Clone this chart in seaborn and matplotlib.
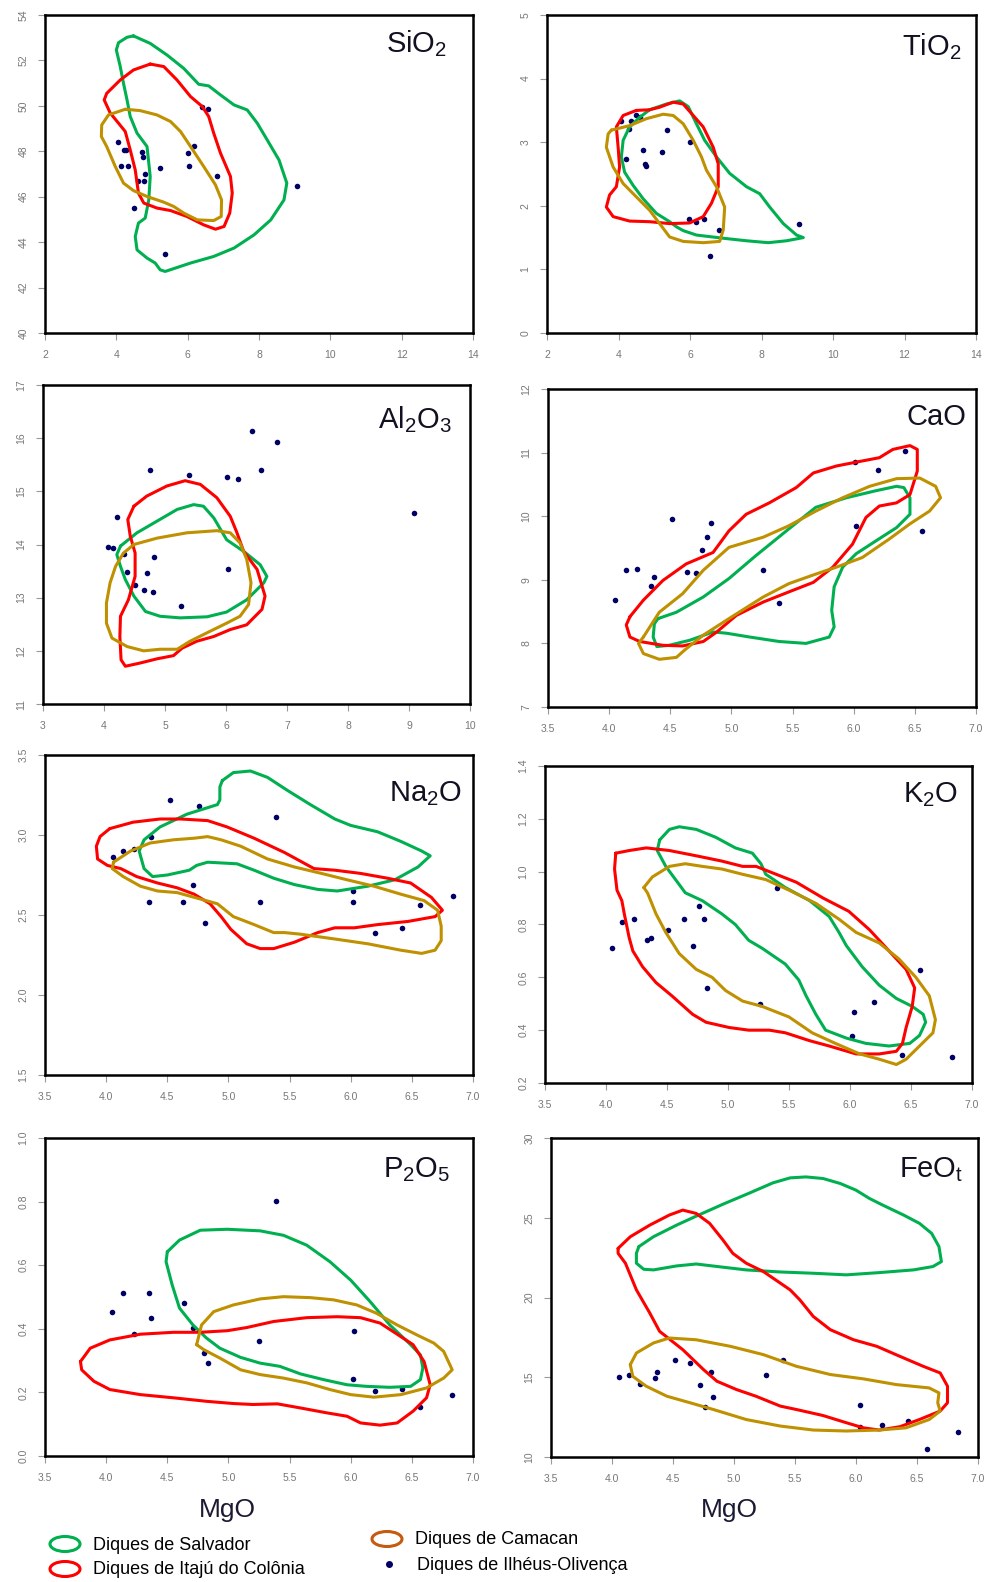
import pandas as pd
import matplotlib
matplotlib.use("Agg")
import matplotlib.pyplot as plt
from matplotlib.patches import Ellipse
import seaborn as sns

sns.set_style("white")
plt.rcParams['font.family'] = ['Liberation Sans', 'DejaVu Sans']

GREEN = '#00b050'
RED = '#ff0000'
GOLD = '#bf9000'
NAVY = '#000066'

# ---- Ilhéus-Olivença samples (MgO vs oxide) ----
sio2_x = [4.04, 4.13, 4.22, 4.28, 4.34, 4.72, 4.75, 4.81, 4.78, 4.62, 4.50, 5.23, 5.37, 6.00, 6.03, 6.19, 6.41, 6.58, 6.83, 9.06]
sio2_y = [48.43, 47.37, 48.06, 48.06, 47.37, 47.95, 47.73, 46.99, 46.71, 46.71, 45.50, 47.26, 43.47, 47.92, 47.36, 48.24, 49.97, 49.85, 46.93, 46.48]

tio2_x = [4.08, 4.34, 4.30, 4.50, 4.59, 4.20, 4.69, 4.73, 4.78, 5.22, 5.36, 5.99, 5.98, 6.18, 6.39, 6.81, 6.55, 9.04]
tio2_y = [3.34, 3.33, 3.21, 3.42, 3.40, 2.74, 2.87, 2.65, 2.63, 2.84, 3.19, 3.01, 1.79, 1.75, 1.79, 1.62, 1.21, 1.71]

al2o3_x = [6.42, 6.83, 4.76, 5.40, 6.02, 6.20, 6.58, 9.08, 4.22, 4.06, 4.14, 4.33, 4.82, 4.38, 4.71, 6.03, 4.51, 4.65, 4.81, 5.26]
al2o3_y = [16.13, 15.93, 15.40, 15.30, 15.27, 15.24, 15.41, 14.59, 14.51, 13.95, 13.94, 13.82, 13.77, 13.48, 13.47, 13.53, 13.24, 13.14, 13.10, 12.84]

cao_x = [4.05, 4.14, 4.23, 4.37, 4.34, 4.51, 4.64, 4.71, 4.76, 4.80, 4.83, 5.26, 5.39, 6.01, 6.02, 6.20, 6.42, 6.56]
cao_y = [8.68, 9.16, 9.17, 9.05, 8.90, 9.95, 9.13, 9.11, 9.47, 9.67, 9.90, 9.15, 8.64, 10.86, 9.85, 10.73, 11.02, 9.77]

na2o_x = [4.06, 4.14, 4.23, 4.37, 4.35, 4.52, 4.76, 4.71, 4.63, 4.81, 5.26, 5.39, 6.02, 6.02, 6.20, 6.42, 6.57, 6.84]
na2o_y = [2.86, 2.90, 2.91, 2.99, 2.58, 3.22, 3.18, 2.69, 2.58, 2.45, 2.58, 3.11, 2.65, 2.58, 2.39, 2.42, 2.56, 2.62]

k2o_x = [4.05, 4.13, 4.23, 4.34, 4.37, 4.51, 4.64, 4.76, 4.71, 4.80, 4.83, 5.26, 5.40, 6.03, 6.02, 6.20, 6.43, 6.57, 6.84]
k2o_y = [0.710, 0.811, 0.821, 0.741, 0.748, 0.779, 0.821, 0.870, 0.719, 0.821, 0.559, 0.498, 0.939, 0.468, 0.379, 0.508, 0.306, 0.629, 0.298]

p2o5_x = [4.05, 4.14, 4.35, 4.37, 4.23, 4.64, 4.71, 4.80, 4.83, 5.25, 5.39, 6.03, 6.02, 6.20, 6.42, 6.57, 6.83]
p2o5_y = [0.454, 0.514, 0.514, 0.433, 0.383, 0.482, 0.402, 0.324, 0.292, 0.362, 0.802, 0.394, 0.243, 0.204, 0.212, 0.153, 0.191]

feot_x = [4.06, 4.14, 4.23, 4.35, 4.37, 4.52, 4.64, 4.72, 4.81, 4.83, 4.76, 5.26, 5.40, 6.03, 6.03, 6.21, 6.43, 6.58, 6.84]
feot_y = [15.00, 15.13, 14.58, 14.94, 15.31, 16.06, 15.90, 14.50, 15.31, 13.77, 13.15, 15.13, 16.06, 13.29, 11.90, 11.98, 12.25, 10.52, 11.58]

# ---- field outlines (Salvador, Itajú do Colônia, Camacan) ----
sio2_salvador = [(4.48, 53.08), (4.95, 52.75), (5.42, 52.24), (5.89, 51.65), (6.31, 50.95), (6.59, 50.88), (6.92, 50.48),
                 (7.30, 50.04), (7.67, 49.82), (7.95, 49.24), (8.23, 48.50), (8.56, 47.62), (8.78, 46.60), (8.70, 45.86),
                 (8.33, 44.98), (7.86, 44.32), (7.30, 43.74), (6.73, 43.37), (6.08, 43.08), (5.37, 42.71), (5.23, 42.78),
                 (5.09, 43.08), (4.86, 43.30), (4.58, 43.66), (4.53, 44.25), (4.62, 44.84), (4.81, 45.06), (4.91, 45.86),
                 (4.95, 46.89), (4.86, 48.21), (4.58, 48.80), (4.39, 49.53), (4.30, 50.26), (4.20, 51.00), (4.11, 51.73),
                 (4.00, 52.46), (4.06, 52.78), (4.30, 53.02)]
sio2_itaju = [(4.95, 51.84), (5.33, 51.73), (5.70, 51.14), (6.08, 50.41), (6.41, 49.97), (6.59, 49.53), (6.73, 48.80),
              (6.92, 47.92), (7.20, 46.89), (7.25, 46.16), (7.18, 45.28), (7.02, 44.69), (6.78, 44.57), (6.45, 44.76),
              (5.98, 45.13), (5.52, 45.39), (5.14, 45.50), (4.77, 45.72), (4.62, 46.16), (4.53, 47.18), (4.39, 48.06),
              (4.25, 48.87), (4.06, 49.24), (3.83, 49.68), (3.66, 50.26), (3.73, 50.55), (4.11, 51.14), (4.48, 51.58)]
sio2_camacan = [(4.25, 49.85), (4.67, 49.79), (5.14, 49.60), (5.52, 49.31), (5.80, 48.87), (6.08, 48.21), (6.45, 47.33),
                (6.78, 46.52), (6.95, 45.86), (6.94, 45.13), (6.73, 44.95), (6.27, 44.98), (5.89, 45.28), (5.61, 45.57),
                (5.33, 45.76), (4.86, 46.01), (4.48, 46.27), (4.20, 46.60), (3.97, 47.33), (3.73, 48.21), (3.58, 48.65),
                (3.59, 49.16), (3.78, 49.60)]

tio2_salvador = [(4.87, 3.51), (5.34, 3.60), (5.71, 3.65), (5.95, 3.56), (6.18, 3.29), (6.41, 3.03), (6.74, 2.77),
                 (7.11, 2.51), (7.58, 2.30), (7.95, 2.19), (8.23, 1.98), (8.61, 1.72), (8.98, 1.54), (9.17, 1.50),
                 (8.70, 1.45), (8.19, 1.42), (7.58, 1.45), (6.93, 1.49), (6.18, 1.54), (5.81, 1.61), (5.62, 1.67),
                 (5.43, 1.75), (5.06, 1.88), (4.69, 2.11), (4.41, 2.32), (4.17, 2.53), (4.08, 2.77), (4.13, 3.03),
                 (4.31, 3.24), (4.59, 3.39)]
tio2_itaju = [(4.50, 3.50), (4.87, 3.51), (5.15, 3.55), (5.53, 3.63), (5.81, 3.60), (6.09, 3.42), (6.37, 3.24),
              (6.65, 2.92), (6.79, 2.66), (6.79, 2.30), (6.60, 2.04), (6.37, 1.83), (5.99, 1.73), (5.43, 1.72),
              (4.87, 1.75), (4.31, 1.76), (3.85, 1.83), (3.66, 1.98), (3.75, 2.17), (3.94, 2.30), (4.03, 2.61),
              (3.99, 2.92), (3.94, 3.24), (4.13, 3.42)]
tio2_camacan = [(3.80, 3.19), (4.31, 3.26), (4.78, 3.37), (5.25, 3.44), (5.53, 3.42), (5.81, 3.29), (6.09, 3.03),
                (6.32, 2.77), (6.46, 2.56), (6.74, 2.30), (6.97, 1.98), (6.93, 1.62), (6.83, 1.44), (6.37, 1.42),
                (5.81, 1.44), (5.43, 1.51), (5.15, 1.72), (4.87, 1.93), (4.50, 2.14), (4.13, 2.35), (3.85, 2.61),
                (3.66, 2.92), (3.71, 3.13)]

al2o3_salvador = [(4.27, 13.97), (4.54, 14.22), (4.87, 14.44), (5.20, 14.66), (5.47, 14.75), (5.63, 14.72), (5.80, 14.50),
                  (6.01, 14.09), (6.29, 13.87), (6.56, 13.62), (6.67, 13.40), (6.62, 13.28), (6.34, 12.96), (6.01, 12.73),
                  (5.69, 12.64), (5.25, 12.62), (4.92, 12.65), (4.68, 12.74), (4.49, 13.03), (4.35, 13.34), (4.27, 13.59),
                  (4.21, 13.81)]
al2o3_itaju = [(4.49, 14.72), (4.70, 14.91), (5.03, 15.10), (5.33, 15.20), (5.58, 15.13), (5.85, 14.88), (6.07, 14.53),
               (6.18, 14.22), (6.29, 13.87), (6.51, 13.53), (6.64, 13.03), (6.59, 12.78), (6.34, 12.49), (6.07, 12.40),
               (5.80, 12.27), (5.52, 12.18), (5.28, 12.05), (5.14, 11.91), (4.87, 11.85), (4.59, 11.77), (4.35, 11.71),
               (4.28, 11.83), (4.26, 12.27), (4.27, 12.65), (4.40, 12.96), (4.51, 13.40), (4.51, 13.84), (4.43, 14.16),
               (4.39, 14.47)]
al2o3_camacan = [(4.49, 14.00), (4.87, 14.12), (5.36, 14.22), (5.85, 14.26), (6.07, 14.22), (6.23, 14.03), (6.34, 13.72),
                 (6.41, 13.28), (6.37, 12.87), (6.23, 12.65), (6.01, 12.52), (5.69, 12.34), (5.41, 12.18), (5.20, 12.03),
                 (4.92, 12.03), (4.65, 12.00), (4.38, 12.08), (4.13, 12.24), (4.04, 12.52), (4.04, 12.90), (4.10, 13.28),
                 (4.19, 13.59), (4.32, 13.84)]

cao_salvador = [(4.40, 8.39), (4.55, 8.49), (4.77, 8.73), (4.98, 9.02), (5.20, 9.38), (5.45, 9.77), (5.69, 10.14),
                (5.94, 10.29), (6.18, 10.40), (6.35, 10.47), (6.41, 10.45), (6.46, 10.29), (6.46, 10.03), (6.35, 9.82),
                (6.18, 9.61), (6.02, 9.41), (5.91, 9.20), (5.84, 8.89), (5.82, 8.52), (5.84, 8.26), (5.80, 8.10),
                (5.61, 8.00), (5.39, 8.03), (5.15, 8.10), (4.96, 8.16), (4.85, 8.18), (4.66, 8.05), (4.49, 7.97),
                (4.39, 7.95), (4.36, 8.10), (4.37, 8.31)]
cao_itaju = [(4.17, 8.42), (4.28, 8.68), (4.44, 8.99), (4.63, 9.25), (4.85, 9.43), (4.98, 9.77), (5.12, 10.03),
             (5.31, 10.21), (5.53, 10.45), (5.67, 10.68), (5.86, 10.79), (6.02, 10.85), (6.21, 10.92), (6.32, 11.05),
             (6.46, 11.11), (6.52, 11.05), (6.52, 10.71), (6.46, 10.34), (6.35, 10.21), (6.21, 10.16), (6.10, 9.98),
             (5.99, 9.56), (5.83, 9.20), (5.67, 8.96), (5.47, 8.81), (5.26, 8.65), (5.04, 8.44), (4.88, 8.18),
             (4.77, 8.03), (4.60, 7.96), (4.44, 7.97), (4.25, 8.03), (4.17, 8.10), (4.14, 8.29)]
cao_camacan = [(4.28, 8.10), (4.41, 8.49), (4.60, 8.78), (4.77, 9.15), (4.98, 9.51), (5.26, 9.67), (5.47, 9.85),
               (5.69, 10.08), (5.91, 10.29), (6.13, 10.47), (6.35, 10.59), (6.54, 10.60), (6.67, 10.47), (6.71, 10.29),
               (6.62, 10.08), (6.46, 9.88), (6.29, 9.64), (6.07, 9.35), (5.86, 9.20), (5.69, 9.09), (5.47, 8.94),
               (5.26, 8.73), (4.98, 8.39), (4.77, 8.13), (4.62, 7.90), (4.55, 7.78), (4.41, 7.75), (4.28, 7.84),
               (4.24, 8.00)]

na2o_salvador = [(4.95, 3.34), (5.04, 3.39), (5.18, 3.40), (5.32, 3.36), (5.48, 3.28), (5.67, 3.19), (5.87, 3.10),
                 (6.00, 3.06), (6.22, 3.02), (6.41, 2.96), (6.58, 2.90), (6.65, 2.87), (6.55, 2.80), (6.36, 2.72),
                 (6.14, 2.68), (5.89, 2.65), (5.73, 2.66), (5.54, 2.69), (5.37, 2.73), (5.21, 2.78), (5.07, 2.82),
                 (4.83, 2.83), (4.74, 2.81), (4.68, 2.78), (4.50, 2.75), (4.38, 2.74), (4.31, 2.79), (4.27, 2.90),
                 (4.31, 2.97), (4.44, 3.05), (4.66, 3.13), (4.91, 3.19), (4.93, 3.22), (4.93, 3.30)]
na2o_itaju = [(4.03, 3.04), (4.22, 3.08), (4.44, 3.10), (4.61, 3.10), (4.83, 3.09), (4.99, 3.05), (5.21, 2.98),
              (5.46, 2.89), (5.70, 2.79), (5.87, 2.78), (6.08, 2.76), (6.30, 2.73), (6.49, 2.70), (6.66, 2.61),
              (6.75, 2.53), (6.69, 2.49), (6.47, 2.46), (6.22, 2.44), (6.03, 2.42), (5.87, 2.42), (5.73, 2.39),
              (5.54, 2.33), (5.37, 2.29), (5.26, 2.29), (5.15, 2.32), (5.02, 2.41), (4.94, 2.49), (4.85, 2.57),
              (4.72, 2.63), (4.58, 2.67), (4.42, 2.70), (4.25, 2.74), (4.12, 2.79), (4.01, 2.81), (3.93, 2.85),
              (3.92, 2.93), (3.95, 2.99)]
na2o_camacan = [(4.06, 2.83), (4.20, 2.90), (4.36, 2.95), (4.55, 2.97), (4.72, 2.98), (4.83, 2.99), (4.94, 2.97),
                (5.10, 2.93), (5.32, 2.85), (5.54, 2.80), (5.76, 2.76), (5.97, 2.72), (6.19, 2.68), (6.41, 2.63),
                (6.60, 2.59), (6.71, 2.53), (6.74, 2.43), (6.74, 2.34), (6.69, 2.28), (6.58, 2.26), (6.41, 2.28),
                (6.14, 2.32), (5.87, 2.35), (5.59, 2.38), (5.46, 2.39), (5.37, 2.39), (5.21, 2.44), (5.04, 2.49),
                (4.91, 2.57), (4.77, 2.60), (4.58, 2.64), (4.42, 2.65), (4.28, 2.68), (4.14, 2.74), (4.05, 2.79)]

k2o_salvador = [(4.44, 1.12), (4.52, 1.16), (4.60, 1.17), (4.74, 1.16), (4.90, 1.13), (5.06, 1.09), (5.20, 1.07),
                (5.27, 1.03), (5.31, 0.99), (5.47, 0.94), (5.67, 0.89), (5.83, 0.83), (5.91, 0.77), (5.97, 0.72),
                (6.10, 0.64), (6.24, 0.57), (6.38, 0.52), (6.51, 0.49), (6.60, 0.46), (6.62, 0.43), (6.57, 0.38),
                (6.49, 0.35), (6.32, 0.34), (6.13, 0.35), (5.97, 0.37), (5.80, 0.40), (5.72, 0.46), (5.64, 0.53),
                (5.58, 0.59), (5.47, 0.65), (5.28, 0.71), (5.17, 0.74), (5.06, 0.80), (4.95, 0.84), (4.79, 0.89),
                (4.65, 0.92), (4.57, 0.97), (4.49, 1.02), (4.42, 1.08)]
k2o_itaju = [(4.08, 1.07), (4.19, 1.08), (4.33, 1.09), (4.52, 1.08), (4.74, 1.06), (4.95, 1.04), (5.12, 1.02),
             (5.23, 1.02), (5.34, 1.00), (5.56, 0.96), (5.78, 0.90), (5.99, 0.85), (6.16, 0.78), (6.32, 0.70),
             (6.46, 0.63), (6.53, 0.56), (6.51, 0.49), (6.46, 0.41), (6.43, 0.35), (6.38, 0.32), (6.24, 0.31),
             (6.05, 0.31), (5.83, 0.34), (5.67, 0.36), (5.47, 0.39), (5.34, 0.40), (5.17, 0.40), (5.01, 0.41),
             (4.82, 0.43), (4.71, 0.46), (4.54, 0.53), (4.41, 0.58), (4.30, 0.64), (4.22, 0.70), (4.19, 0.75),
             (4.15, 0.84), (4.13, 0.89), (4.09, 0.93), (4.07, 1.01)]
k2o_camacan = [(4.31, 0.94), (4.38, 0.98), (4.52, 1.02), (4.65, 1.03), (4.79, 1.02), (4.95, 1.01), (5.12, 0.99),
               (5.31, 0.97), (5.50, 0.93), (5.72, 0.88), (5.91, 0.82), (6.05, 0.77), (6.24, 0.73), (6.40, 0.67),
               (6.54, 0.60), (6.65, 0.53), (6.70, 0.44), (6.68, 0.39), (6.57, 0.34), (6.46, 0.29), (6.38, 0.27),
               (6.24, 0.29), (6.08, 0.31), (5.88, 0.35), (5.69, 0.39), (5.50, 0.45), (5.28, 0.49), (5.12, 0.51),
               (4.98, 0.55), (4.87, 0.60), (4.74, 0.63), (4.60, 0.69), (4.49, 0.77), (4.41, 0.84), (4.34, 0.92)]

p2o5_salvador = [(4.50, 0.642), (4.60, 0.679), (4.77, 0.710), (4.99, 0.713), (5.26, 0.708), (5.45, 0.694), (5.64, 0.663),
                 (5.83, 0.611), (6.00, 0.553), (6.16, 0.485), (6.32, 0.412), (6.49, 0.350), (6.57, 0.318), (6.59, 0.277),
                 (6.57, 0.240), (6.49, 0.219), (6.32, 0.216), (6.13, 0.219), (5.97, 0.224), (5.78, 0.240), (5.59, 0.258),
                 (5.42, 0.282), (5.26, 0.292), (5.10, 0.310), (4.93, 0.339), (4.82, 0.371), (4.71, 0.412), (4.60, 0.465),
                 (4.54, 0.538), (4.49, 0.611)]
p2o5_itaju = [(3.79, 0.297), (3.87, 0.339), (4.03, 0.365), (4.28, 0.383), (4.55, 0.389), (4.77, 0.389), (4.99, 0.394),
              (5.15, 0.404), (5.37, 0.423), (5.64, 0.435), (5.89, 0.438), (6.08, 0.435), (6.24, 0.418), (6.38, 0.383),
              (6.51, 0.350), (6.60, 0.297), (6.65, 0.224), (6.62, 0.183), (6.51, 0.141), (6.38, 0.104), (6.24, 0.097),
              (6.08, 0.104), (5.97, 0.125), (5.80, 0.136), (5.59, 0.151), (5.40, 0.164), (5.20, 0.162), (5.04, 0.165),
              (4.82, 0.172), (4.55, 0.183), (4.28, 0.193), (4.03, 0.209), (3.90, 0.235), (3.80, 0.271)]
p2o5_camacan = [(4.74, 0.350), (4.78, 0.412), (4.88, 0.454), (5.04, 0.475), (5.26, 0.494), (5.45, 0.501), (5.67, 0.498),
                (5.86, 0.491), (6.05, 0.475), (6.21, 0.449), (6.38, 0.412), (6.54, 0.381), (6.68, 0.355), (6.76, 0.329),
                (6.83, 0.271), (6.76, 0.245), (6.62, 0.214), (6.41, 0.193), (6.19, 0.185), (6.00, 0.193), (5.83, 0.209),
                (5.64, 0.230), (5.45, 0.245), (5.26, 0.256), (5.10, 0.271), (4.93, 0.308), (4.80, 0.334)]

feot_salvador = [(4.22, 23.19), (4.34, 23.81), (4.53, 24.54), (4.69, 25.10), (4.91, 25.85), (5.13, 26.56), (5.32, 27.19),
                 (5.46, 27.50), (5.59, 27.56), (5.73, 27.46), (5.87, 27.15), (6.00, 26.73), (6.11, 26.21), (6.22, 25.79),
                 (6.39, 25.17), (6.52, 24.65), (6.62, 24.02), (6.68, 23.19), (6.70, 22.25), (6.63, 21.94), (6.47, 21.73),
                 (6.19, 21.56), (5.92, 21.42), (5.65, 21.52), (5.38, 21.60), (5.10, 21.73), (4.91, 21.90), (4.69, 22.10),
                 (4.53, 21.98), (4.34, 21.73), (4.26, 21.77), (4.20, 22.15), (4.20, 22.77)]
feot_itaju = [(4.05, 23.08), (4.15, 23.81), (4.31, 24.54), (4.47, 25.17), (4.58, 25.48), (4.69, 25.27), (4.80, 24.65),
              (4.91, 23.60), (4.99, 22.77), (5.10, 22.15), (5.24, 21.63), (5.38, 20.90), (5.46, 20.48), (5.54, 19.85),
              (5.65, 18.81), (5.79, 17.98), (5.98, 17.35), (6.17, 16.94), (6.36, 16.31), (6.55, 15.69), (6.69, 15.27),
              (6.75, 14.44), (6.75, 13.40), (6.69, 12.88), (6.52, 12.35), (6.36, 11.90), (6.19, 11.69), (6.06, 11.83),
              (5.92, 12.15), (5.73, 12.60), (5.51, 12.98), (5.38, 13.19), (5.18, 13.81), (5.02, 14.23), (4.86, 14.75),
              (4.75, 15.48), (4.58, 16.73), (4.39, 17.88), (4.31, 19.02), (4.20, 20.48), (4.11, 22.15), (4.05, 22.77)]
feot_camacan = [(4.15, 15.79), (4.20, 16.52), (4.34, 17.15), (4.47, 17.46), (4.69, 17.35), (4.97, 16.94), (5.24, 16.42),
                (5.51, 15.69), (5.79, 15.17), (6.06, 14.90), (6.33, 14.54), (6.60, 14.33), (6.68, 14.02), (6.67, 13.40),
                (6.69, 12.88), (6.60, 12.35), (6.41, 11.83), (6.19, 11.69), (5.92, 11.63), (5.65, 11.69), (5.38, 11.94),
                (5.10, 12.35), (4.83, 12.98), (4.64, 13.40), (4.45, 13.81), (4.28, 14.44), (4.17, 15.06)]

# tick values
x_ticks_wide = [2, 4, 6, 8, 10, 12, 14]
x_ticks_al = [3, 4, 5, 6, 7, 8, 9, 10]
x_ticks_mgo = [3.5, 4.0, 4.5, 5.0, 5.5, 6.0, 6.5, 7.0]

labels = [r'SiO$\mathregular{_2}$', r'TiO$\mathregular{_2}$', r'Al$\mathregular{_2}$O$\mathregular{_3}$', 'CaO',
          r'Na$\mathregular{_2}$O', r'K$\mathregular{_2}$O', r'P$\mathregular{_2}$O$\mathregular{_5}$', r'FeO$\mathregular{_t}$']

panels = [
    dict(x=sio2_x, y=sio2_y, fields=[sio2_salvador, sio2_itaju, sio2_camacan], xt=x_ticks_wide, xf='{:.0f}',
         yt=[40, 42, 44, 46, 48, 50, 52, 54], yf='{:.0f}'),
    dict(x=tio2_x, y=tio2_y, fields=[tio2_salvador, tio2_itaju, tio2_camacan], xt=x_ticks_wide, xf='{:.0f}',
         yt=[0, 1, 2, 3, 4, 5], yf='{:.0f}'),
    dict(x=al2o3_x, y=al2o3_y, fields=[al2o3_salvador, al2o3_itaju, al2o3_camacan], xt=x_ticks_al, xf='{:.0f}',
         yt=[11, 12, 13, 14, 15, 16, 17], yf='{:.0f}'),
    dict(x=cao_x, y=cao_y, fields=[cao_salvador, cao_itaju, cao_camacan], xt=x_ticks_mgo, xf='{:.1f}',
         yt=[7, 8, 9, 10, 11, 12], yf='{:.0f}'),
    dict(x=na2o_x, y=na2o_y, fields=[na2o_salvador, na2o_itaju, na2o_camacan], xt=x_ticks_mgo, xf='{:.1f}',
         yt=[1.5, 2.0, 2.5, 3.0, 3.5], yf='{:.1f}'),
    dict(x=k2o_x, y=k2o_y, fields=[k2o_salvador, k2o_itaju, k2o_camacan], xt=x_ticks_mgo, xf='{:.1f}',
         yt=[0.2, 0.4, 0.6, 0.8, 1.0, 1.2, 1.4], yf='{:.1f}'),
    dict(x=p2o5_x, y=p2o5_y, fields=[p2o5_salvador, p2o5_itaju, p2o5_camacan], xt=x_ticks_mgo, xf='{:.1f}',
         yt=[0.0, 0.2, 0.4, 0.6, 0.8, 1.0], yf='{:.1f}'),
    dict(x=feot_x, y=feot_y, fields=[feot_salvador, feot_itaju, feot_camacan], xt=x_ticks_mgo, xf='{:.1f}',
         yt=[10, 15, 20, 25, 30], yf='{:.0f}'),
]

# axes boxes in pixels (left, top, right, bottom) and label position in axes fraction
W, H = 992, 1582
boxes = [(45, 15, 473, 333), (547, 15, 976, 333), (43, 385, 470, 704), (548, 389, 976, 707),
         (45, 755, 473, 1075), (545, 766, 972, 1083), (45, 1138, 473, 1456), (551, 1138, 978, 1457)]
label_pos = [(0.94, 0.91), (0.965, 0.90), (0.958, 0.89), (0.977, 0.912),
             (0.974, 0.88), (0.967, 0.909), (0.946, 0.90), (0.965, 0.90)]
field_colors = [GREEN, RED, GOLD]

fig = plt.figure(figsize=(W / 100, H / 100), dpi=100)

for p, box, lab, lp in zip(panels, boxes, labels, label_pos):
    l, t, r, b = box
    ax = fig.add_axes([l / W, 1 - b / H, (r - l) / W, (b - t) / H])
    sns.scatterplot(x=p['x'], y=p['y'], color=NAVY, s=16, linewidth=0, ax=ax, zorder=2)
    for pts, col in zip(p['fields'], field_colors):
        df = pd.DataFrame(pts + pts[:1], columns=['x', 'y'])
        sns.lineplot(data=df, x='x', y='y', sort=False, estimator=None, color=col, lw=2.2,
                     solid_joinstyle='round', ax=ax, zorder=3)
    ax.set_xlim(p['xt'][0], p['xt'][-1])
    ax.set_ylim(p['yt'][0], p['yt'][-1])
    ax.set_xticks(p['xt'])
    ax.set_yticks(p['yt'])
    ax.set_xticklabels([p['xf'].format(v) for v in p['xt']])
    ax.set_yticklabels([p['yf'].format(v) for v in p['yt']], rotation=90, va='center')
    ax.set_xlabel('')
    ax.set_ylabel('')
    ax.tick_params(bottom=True, left=True, direction='out', length=5, width=0.8, color='#999999',
                   labelcolor='#777777', labelsize=7.5, pad=7)
    for s in ax.spines.values():
        s.set_color('black')
        s.set_linewidth(1.8)
    ax.text(lp[0], lp[1], lab, transform=ax.transAxes, ha='right', va='center', fontsize=21, color='#111122')

fig.text(227 / W, 1 - 1510 / H, 'MgO', ha='center', va='center', fontsize=19, color='#1a1a33')
fig.text(729 / W, 1 - 1510 / H, 'MgO', ha='center', va='center', fontsize=19, color='#1a1a33')

# legend drawn in pixel space
lg = fig.add_axes([0, 0, 1, 1])
lg.set_xlim(0, W)
lg.set_ylim(H, 0)
lg.axis('off')
legend_items = [('Diques de Salvador', GREEN, 'ring', 65, 1544),
                ('Diques de Itajú do Colônia', RED, 'ring', 65, 1569),
                ('Diques de Camacan', '#c55a11', 'ring', 387, 1539),
                ('Diques de Ilhéus-Olivença', NAVY, 'dot', 389, 1564)]
for name, col, kind, ex, ey in legend_items:
    if kind == 'ring':
        lg.add_patch(Ellipse((ex, ey), 30, 15, fill=False, edgecolor=col, lw=2.2))
    else:
        lg.plot([ex], [ey], 'o', color=col, ms=4)
    lg.text(ex + 28, ey + 1, name, ha='left', va='center', fontsize=13, color='black')

fig.savefig('out.png', dpi=100)
